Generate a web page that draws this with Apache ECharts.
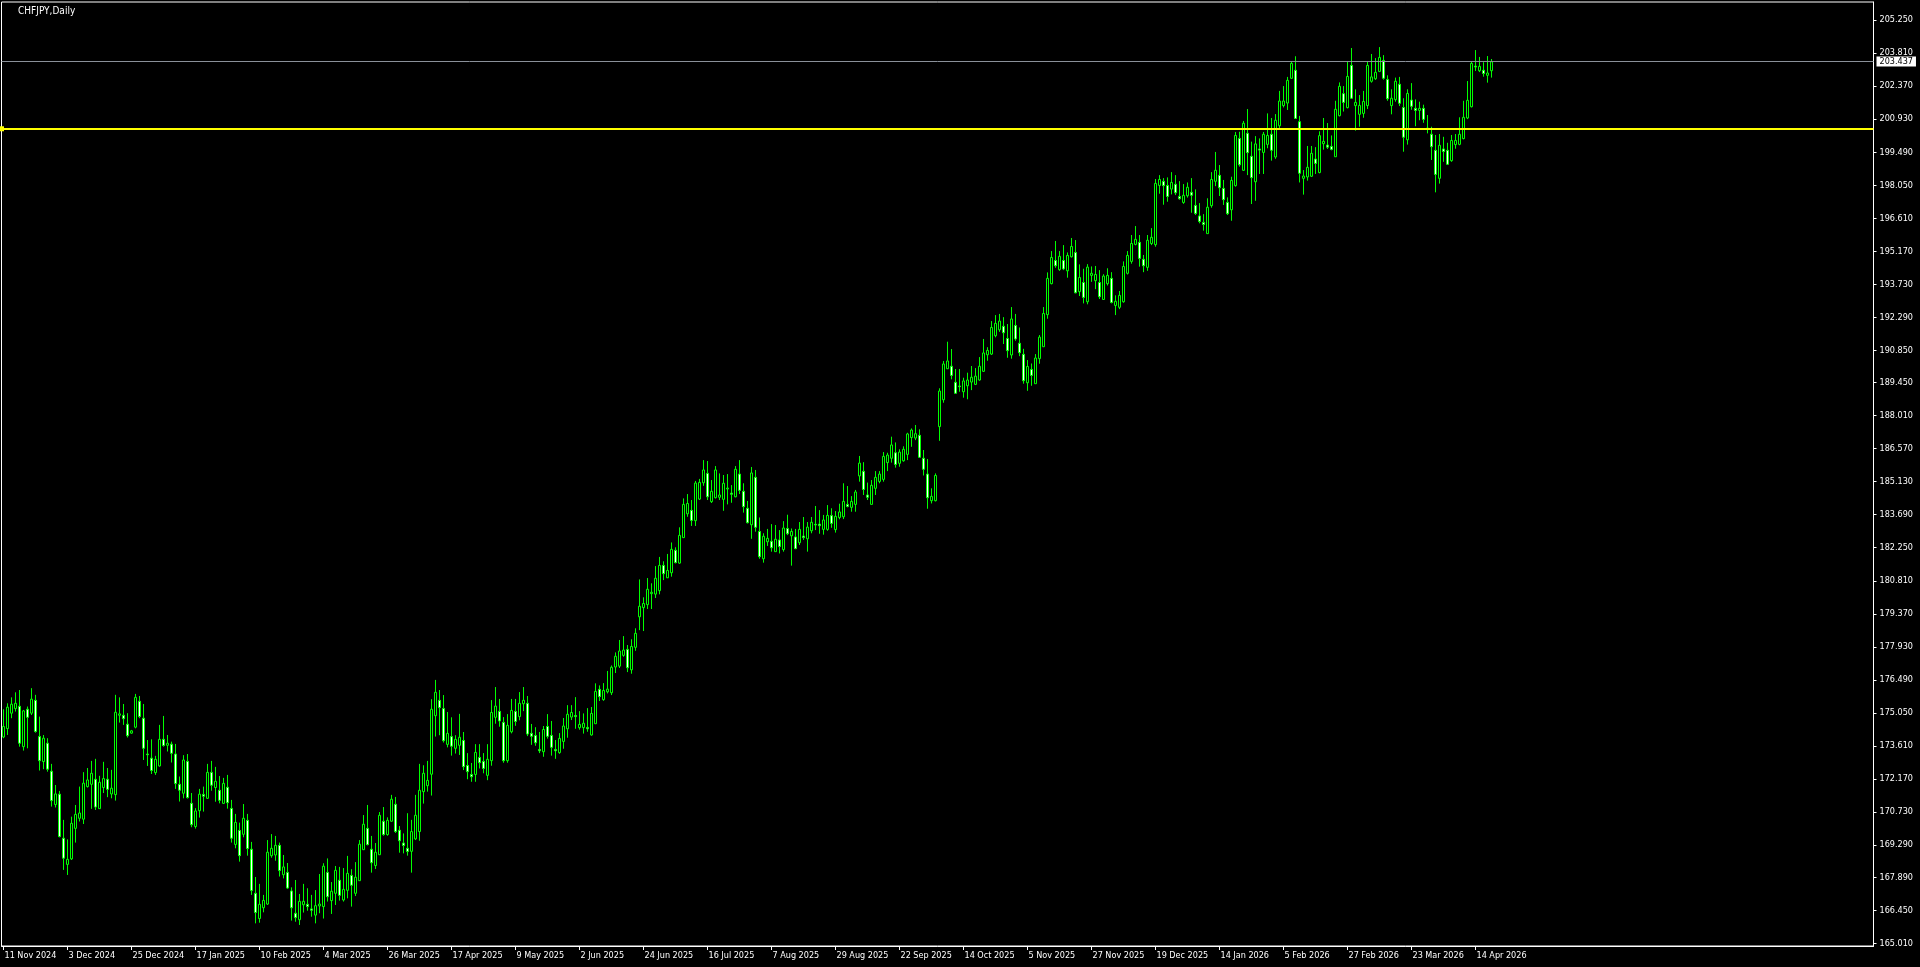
<!DOCTYPE html>
<html><head><meta charset="utf-8">
<script src="https://cdn.jsdelivr.net/npm/echarts@6/dist/echarts.min.js"></script>
<style>html,body{margin:0;padding:0;background:#000;overflow:hidden}#chart{width:1920px;height:967px}</style>
</head><body><div id="chart"></div>
<script>
const symbolTitle = 'CHFJPY,Daily';
const firstDate = [2024, 11, 11];
const missingDates = ['2025-01-01', '2025-12-25', '2026-01-01'];
const labelEvery = 16;
const emptyBarsRight = 95;

const openPrices = [
174.00,174.37,175.04,175.24,175.34,173.58,175.21,175.04,175.60,174.02,
172.93,173.73,172.51,171.06,171.51,169.59,168.45,168.69,170.02,170.46,
170.42,171.84,171.94,172.16,170.88,171.80,172.16,171.52,171.49,174.95,
174.95,174.56,174.17,174.43,175.56,174.82,173.26,173.08,172.45,172.74,
173.90,173.64,173.69,173.26,171.94,171.55,172.94,171.11,170.10,170.79,
171.50,171.33,172.46,171.80,171.68,171.11,171.81,170.89,169.32,169.93,
169.76,170.37,169.11,167.19,166.09,166.56,166.72,168.83,168.86,169.28,
168.00,168.10,167.29,166.32,166.04,166.69,166.71,166.51,166.24,166.64,
166.61,168.10,166.87,167.19,167.76,166.90,167.32,167.97,167.19,167.74,
169.09,170.02,169.11,168.40,168.87,170.33,169.75,170.33,171.07,169.94,
169.38,169.15,169.02,169.56,169.88,171.62,171.88,172.38,174.93,175.60,
175.24,173.68,174.02,173.51,173.64,173.85,172.76,172.37,172.37,173.11,
172.94,172.33,172.97,174.86,175.12,174.64,172.97,174.23,175.12,174.89,
175.45,175.47,174.16,174.07,173.46,173.36,174.46,174.07,173.46,173.32,
173.81,174.36,174.87,174.94,174.41,174.41,174.42,174.09,174.58,176.08,
175.63,175.97,175.93,177.05,177.09,177.56,177.82,176.93,177.91,179.24,
179.64,179.77,180.25,180.23,180.38,181.48,180.94,181.16,182.14,181.58,
182.69,183.73,183.88,183.43,184.37,185.08,185.49,184.26,184.43,184.45,
184.36,184.81,184.63,184.47,185.46,184.71,183.97,183.25,185.32,182.96,
181.77,182.51,182.53,182.08,182.59,182.17,183.09,182.77,182.72,182.47,
182.76,182.64,182.99,183.27,183.28,183.05,183.05,183.65,183.04,183.57,
183.60,184.14,184.01,184.14,185.38,185.58,184.55,184.14,184.84,185.14,
185.23,185.96,186.15,186.39,185.93,186.04,186.32,187.05,187.03,187.15,
186.15,185.46,184.30,184.30,187.53,188.70,190.05,190.16,189.46,189.30,
189.05,189.31,189.47,189.37,189.56,189.94,190.66,190.69,191.49,191.75,
191.90,191.37,190.65,191.94,191.16,190.68,189.44,190.02,189.40,190.49,
191.01,192.41,193.76,194.77,194.37,194.77,194.32,194.93,195.12,193.41,
193.81,192.97,194.12,193.89,193.81,193.07,193.76,193.99,192.81,192.73,
192.97,194.21,194.73,195.47,195.56,194.82,194.47,195.51,195.46,198.04,
198.22,198.04,197.88,198.09,197.56,197.30,197.59,197.74,197.17,196.71,
196.43,195.94,197.16,198.22,198.48,197.91,197.30,196.98,198.03,200.09,
198.70,200.31,199.31,198.20,199.63,199.48,199.83,200.27,199.28,200.64,
201.52,201.63,202.71,203.06,200.82,198.35,198.41,198.44,199.19,198.60,
199.86,199.80,199.74,199.29,201.08,202.04,201.43,203.27,201.52,201.14,
201.18,201.52,202.58,202.69,203.01,203.49,202.66,201.52,201.78,202.45,
201.44,200.03,201.76,201.40,201.31,201.40,200.54,200.27,199.57,198.35,
199.63,199.57,199.12,199.82,199.83,200.08,200.98,201.47,203.24,203.04,
203.06,202.84,203.04
];
const highPrices = [
175.21,175.47,175.73,175.95,176.05,175.18,175.33,176.13,175.84,174.89,
174.09,173.95,172.83,171.91,171.65,170.39,169.54,170.53,171.04,171.84,
172.47,172.65,172.96,173.05,172.31,172.92,172.65,172.57,175.84,175.73,
175.44,175.04,174.31,175.88,175.79,175.44,173.87,173.90,173.18,174.53,
174.92,174.09,173.80,173.70,172.28,173.21,173.26,171.56,170.90,171.74,
171.84,172.83,172.96,172.70,172.30,172.22,172.35,171.26,170.65,170.27,
171.08,170.65,169.43,167.90,167.60,167.12,169.51,169.77,169.69,169.40,
168.86,168.51,167.45,167.77,167.16,167.60,167.41,167.12,167.33,168.03,
168.50,168.71,167.68,168.38,168.34,168.29,168.82,168.24,168.55,169.51,
170.60,171.04,169.69,169.38,170.73,170.95,170.50,171.48,171.39,170.12,
169.80,170.68,170.39,171.48,172.83,172.77,172.96,175.65,176.49,176.05,
175.83,175.09,174.86,174.08,175.01,174.22,173.30,172.87,173.69,173.69,
173.30,173.69,175.61,176.18,175.66,174.87,175.00,175.66,175.66,175.96,
176.18,175.79,174.57,174.43,174.22,174.48,175.00,174.70,173.87,174.17,
174.83,175.39,175.39,175.74,175.13,175.03,175.26,175.31,176.34,176.25,
176.35,176.88,177.12,177.69,178.23,178.40,178.01,178.26,178.74,180.87,
180.09,180.93,180.70,181.45,181.85,181.66,181.98,182.48,182.27,183.14,
184.40,184.59,184.33,185.16,185.25,186.07,186.03,185.20,185.81,185.49,
185.42,185.46,184.98,185.81,186.07,185.06,184.29,185.77,185.64,183.57,
182.88,183.07,183.28,183.24,183.02,183.41,183.69,183.09,183.07,183.37,
183.59,183.37,183.59,184.07,183.89,183.68,184.11,183.97,183.85,184.17,
185.06,184.94,184.50,184.77,186.25,185.98,185.09,185.20,185.59,185.59,
186.42,186.39,187.09,186.84,186.54,186.67,187.26,187.45,187.60,187.41,
186.51,186.12,184.84,185.49,189.20,190.39,191.23,190.91,190.04,190.04,
189.66,189.88,190.17,190.08,190.56,191.35,190.99,192.13,192.39,192.44,
192.30,192.00,192.74,192.44,191.85,190.92,190.43,190.28,190.69,191.52,
192.74,194.25,195.18,195.62,195.18,195.44,195.12,195.75,195.66,194.60,
194.41,194.61,194.51,194.53,194.35,194.17,194.43,194.26,193.25,193.44,
194.73,195.18,195.88,196.27,195.88,195.01,195.88,196.18,198.32,198.49,
198.36,198.39,198.62,198.49,198.23,198.10,198.17,198.36,197.87,197.27,
196.79,197.48,198.62,199.50,198.93,198.28,197.52,198.42,200.37,200.38,
200.85,201.37,199.95,200.19,200.09,200.37,201.18,200.98,201.15,202.16,
202.37,202.77,203.42,203.67,201.07,198.71,199.76,199.76,199.71,200.40,
200.98,200.76,200.22,201.73,202.53,202.37,203.42,204.03,202.23,201.98,
202.16,203.45,203.77,203.59,204.07,203.72,202.84,202.23,202.74,202.77,
201.84,202.23,202.50,201.79,201.69,201.56,201.11,200.60,200.24,200.28,
200.16,199.90,200.24,200.28,201.01,201.73,202.59,203.42,203.94,203.64,
203.41,203.68,203.55
];
const lowPrices = [
173.95,174.09,174.82,175.11,173.58,173.41,173.51,174.96,174.19,172.54,
172.60,172.49,170.97,170.93,169.63,168.21,167.99,168.64,169.40,170.32,
170.21,171.80,170.87,170.82,170.87,171.56,171.38,171.33,171.23,174.63,
174.53,173.98,174.14,174.38,174.82,173.00,172.74,172.39,172.35,172.71,
173.58,173.37,172.89,171.74,171.19,171.33,171.32,170.07,170.01,170.49,
170.75,171.30,171.66,171.18,171.11,171.08,170.88,169.40,169.15,168.57,
169.63,168.83,167.12,165.88,165.91,166.36,166.68,168.74,168.61,167.92,
167.84,167.38,166.00,165.95,165.81,166.35,166.43,166.17,165.88,166.32,
166.09,166.83,166.29,166.68,166.87,166.83,166.97,166.61,167.07,167.74,
169.09,169.28,168.09,168.25,168.87,169.70,169.70,170.31,169.82,168.96,
168.93,168.83,168.09,169.51,169.48,171.10,171.62,171.45,174.02,174.08,
173.76,173.55,173.19,173.28,173.22,172.56,172.16,172.05,172.05,172.63,
172.42,172.12,172.75,174.58,174.45,172.88,172.88,174.16,174.49,174.73,
175.13,174.04,173.66,173.62,173.30,173.14,173.93,173.19,173.05,173.27,
173.49,173.97,174.74,174.36,174.32,174.15,174.23,174.06,174.58,175.57,
175.58,175.90,175.83,176.79,177.01,177.50,176.83,176.76,177.76,178.66,
178.62,179.58,179.58,180.06,180.22,180.84,180.93,180.99,181.57,181.55,
182.69,183.60,183.20,183.20,184.33,184.95,184.33,184.20,184.40,184.33,
183.86,184.14,184.21,184.45,184.59,183.78,183.31,182.64,182.95,181.77,
181.60,182.33,182.08,182.08,182.00,182.08,182.80,181.47,182.19,182.37,
182.59,182.08,182.88,183.02,182.86,182.82,182.99,183.12,182.91,183.49,
183.50,184.01,183.82,183.82,185.13,184.55,184.33,184.14,184.55,185.06,
185.13,185.59,185.96,185.74,185.78,186.00,186.07,186.65,186.94,186.17,
185.40,183.95,184.18,184.27,186.91,188.57,190.04,189.59,188.98,189.05,
188.79,188.72,189.12,189.34,189.53,189.91,190.40,190.65,191.42,191.66,
191.13,190.53,190.49,191.27,190.60,189.40,189.09,189.31,189.40,190.27,
191.01,192.23,193.73,194.45,194.32,194.35,194.02,194.90,193.34,193.22,
192.90,192.86,193.84,193.52,193.09,193.07,193.68,192.90,192.39,192.65,
192.93,194.16,194.63,195.43,194.50,194.26,194.32,195.44,195.37,197.68,
197.20,197.33,197.65,197.62,197.42,197.24,197.51,196.85,196.75,196.39,
196.07,195.94,197.07,198.01,197.58,197.19,196.75,196.50,197.99,198.86,
198.68,198.49,197.23,197.37,198.54,198.54,199.66,199.12,199.20,200.50,
201.44,201.33,202.68,200.94,198.17,197.64,198.25,198.41,198.54,198.57,
199.60,199.63,199.57,199.29,201.05,201.26,201.40,201.81,200.43,200.60,
200.99,201.37,202.52,202.64,202.98,202.65,201.73,201.14,201.69,201.50,
199.51,199.82,201.34,200.62,200.88,200.77,200.31,199.15,197.74,198.12,
199.07,198.93,199.07,199.64,199.79,200.05,200.93,201.44,203.03,202.98,
202.78,202.52,202.74
];
const closePrices = [
174.46,175.30,175.43,175.47,173.73,175.14,174.86,175.65,174.24,172.97,
173.95,172.60,171.23,171.52,169.66,168.72,168.67,170.24,170.63,170.69,
171.99,172.13,172.42,170.95,172.03,172.19,171.72,171.77,175.08,175.01,
174.80,174.06,174.27,175.73,174.89,173.51,173.23,172.54,173.03,173.90,
173.63,173.73,173.29,171.97,171.68,173.00,171.36,170.18,170.78,171.51,
171.42,172.46,171.90,172.07,171.24,171.98,171.14,169.59,170.28,168.83,
170.46,169.14,167.31,166.35,166.71,166.88,168.98,169.15,169.28,168.18,
168.34,167.42,166.56,166.13,166.84,166.84,166.61,166.45,166.65,166.72,
168.37,167.04,167.28,168.19,167.10,167.36,168.06,167.54,167.89,169.33,
170.20,169.31,168.52,168.98,170.59,169.75,170.37,171.29,169.88,169.48,
169.27,169.01,169.88,170.59,171.68,172.42,172.11,175.21,175.95,175.28,
173.84,174.16,173.60,173.90,173.99,172.71,172.49,172.27,173.33,172.88,
172.63,173.03,175.07,175.35,174.70,172.97,174.51,175.16,174.68,175.47,
175.60,174.13,174.03,173.75,173.40,174.33,174.03,173.55,173.40,173.94,
174.48,174.99,175.07,174.89,174.55,174.60,174.36,175.03,175.99,175.76,
176.03,176.09,177.04,177.52,177.75,177.79,177.02,177.95,178.52,179.70,
179.82,180.44,180.31,180.92,181.48,181.12,181.26,182.18,181.60,182.79,
184.14,184.18,183.44,185.07,185.10,185.64,184.47,184.71,185.64,184.55,
185.06,184.85,184.58,185.67,184.75,184.04,183.34,185.51,183.14,181.86,
182.75,182.66,182.25,182.62,182.30,183.11,182.86,182.96,182.21,183.05,
182.69,183.15,183.36,183.24,183.21,183.46,183.66,183.31,183.62,183.81,
184.27,184.05,184.27,184.68,185.94,184.79,184.45,184.97,185.32,185.46,
186.23,186.29,186.73,185.88,186.42,186.54,187.21,187.38,187.22,186.19,
185.67,184.43,184.49,185.40,189.08,190.26,190.39,189.76,188.98,189.27,
189.52,189.56,189.68,189.73,190.16,190.74,190.85,191.85,192.03,192.13,
191.62,190.84,192.22,191.35,190.75,189.53,190.15,189.76,190.52,191.43,
192.46,193.99,194.90,194.54,194.95,194.40,194.99,195.38,193.36,194.03,
193.16,194.48,194.21,194.16,193.19,194.09,194.12,192.94,192.99,193.25,
194.51,194.99,195.51,195.69,194.86,194.54,195.65,195.78,198.13,198.30,
198.03,197.56,198.17,197.72,197.46,197.61,197.96,197.61,196.82,196.47,
196.34,197.09,198.30,198.70,197.94,197.42,196.81,198.26,200.22,198.94,
200.75,199.47,198.38,199.85,199.58,200.27,200.22,199.57,200.88,201.72,
201.72,202.62,203.36,200.96,198.57,198.45,198.83,199.44,199.00,200.21,
199.96,199.71,199.61,201.36,202.36,201.66,202.79,201.84,201.66,201.53,
201.70,203.27,202.77,202.97,203.62,202.71,201.82,201.84,202.58,201.62,
200.14,202.05,201.49,201.31,201.40,200.92,200.48,199.73,198.52,199.79,
199.52,198.96,200.00,200.00,200.27,201.01,201.75,203.36,203.20,203.23,
202.92,202.94,203.43
];

const priceTicks = [165.010,166.450,167.890,169.290,170.730,172.170,173.610,175.050,176.490,177.930,
179.370,180.810,182.250,183.690,185.130,186.570,188.010,189.450,190.850,192.290,
193.730,195.170,196.610,198.050,199.490,200.930,202.370,203.810,205.250];
const levelLinePrice = 200.51;
const bidPrice = 203.437;
const priceMin = 164.893;
const priceMax = 206.035;

const MONTHS = ['Jan','Feb','Mar','Apr','May','Jun','Jul','Aug','Sep','Oct','Nov','Dec'];
const barCount = openPrices.length;
const dates = [];
{
  const d = new Date(Date.UTC(firstDate[0], firstDate[1] - 1, firstDate[2]));
  while (dates.length < barCount) {
    const wd = d.getUTCDay();
    const iso = d.toISOString().slice(0, 10);
    if (wd !== 0 && wd !== 6 && missingDates.indexOf(iso) < 0) {
      dates.push(d.getUTCDate() + ' ' + MONTHS[d.getUTCMonth()] + ' ' + d.getUTCFullYear());
    }
    d.setUTCDate(d.getUTCDate() + 1);
  }
}
const categories = dates.slice();
for (let i = 0; i < emptyBarsRight; i++) categories.push('pad' + i);

const ohlc = openPrices.map((o, i) => [o, closePrices[i], lowPrices[i], highPrices[i]]);

const FONT = '"DejaVu Sans Condensed", "DejaVu Sans", sans-serif';
const showDateTick = (i) => i % labelEvery === 0 && i < barCount;

const chart = echarts.init(document.getElementById('chart'), null, { renderer: 'canvas' });
chart.setOption({
  backgroundColor: '#000000',
  animation: false,
  title: {
    text: symbolTitle, left: 18, top: 6, padding: 0,
    textStyle: { color: '#ffffff', fontSize: 10, fontWeight: 'normal', fontFamily: FONT }
  },
  grid: {
    left: 1.5, top: 2, width: 1872, height: 944,
    show: true, borderColor: '#ffffff', borderWidth: 1, backgroundColor: '#000000'
  },
  xAxis: {
    type: 'category',
    data: categories,
    boundaryGap: true,
    axisLine: { show: true, lineStyle: { color: '#ffffff', width: 1 } },
    axisTick: { show: true, alignWithLabel: true, interval: showDateTick, length: 4, lineStyle: { color: '#ffffff' } },
    axisLabel: {
      show: true, interval: showDateTick, align: 'left', color: '#ffffff',
      fontSize: 9, fontFamily: FONT, margin: 5, padding: [0, 0, 0, 1]
    },
    splitLine: { show: false }
  },
  yAxis: {
    type: 'value',
    position: 'right',
    min: priceMin, max: priceMax,
    axisLine: { show: true, lineStyle: { color: '#ffffff', width: 1 } },
    axisTick: { show: true, length: 3, customValues: priceTicks, lineStyle: { color: '#ffffff' } },
    axisLabel: {
      show: true, customValues: priceTicks, color: '#ffffff', fontSize: 9, fontFamily: FONT, margin: 6,
      formatter: (v) => v.toFixed(3)
    },
    splitLine: { show: false }
  },
  series: [{
    type: 'candlestick',
    data: ohlc,
    barWidth: 2,
    itemStyle: {
      color: '#000000', color0: '#ffffff',
      borderColor: '#00ff00', borderColor0: '#00ff00', borderColorDoji: '#00ff00',
      borderWidth: 1
    },
    emphasis: { disabled: true },
    markLine: {
      silent: true, animation: false,
      symbol: ['none', 'none'],
      data: [
        {
          yAxis: levelLinePrice, symbol: 'rect', symbolSize: 5,
          lineStyle: { color: '#ffff00', width: 2, type: 'solid' },
          itemStyle: { color: '#ffff00' },
          label: { show: false }
        },
        {
          yAxis: bidPrice,
          lineStyle: { color: '#8a9099', width: 1, type: 'solid' },
          label: {
            show: true, position: 'end', distance: 3,
            formatter: () => bidPrice.toFixed(3),
            backgroundColor: '#ffffff', color: '#000000', fontSize: 9, fontFamily: FONT,
            padding: [1, 3, 0, 3]
          }
        }
      ]
    }
  }]
});
</script>
</body></html>
